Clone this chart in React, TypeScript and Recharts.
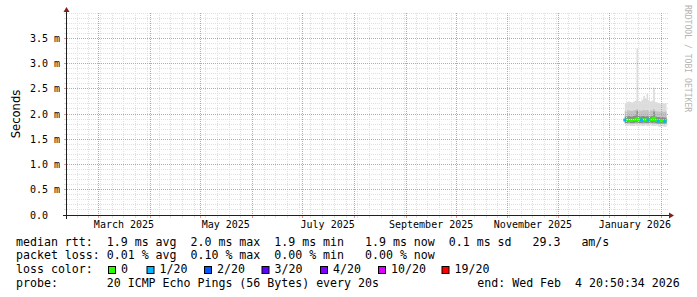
/**
 * SmokePing style latency chart (last 360 days)
 */

import React from 'react';
import { ComposedChart, Area, Line, Scatter, XAxis, YAxis, ReferenceLine } from 'recharts';

const W = 697;
const H = 297;
const DAY = 86400000;

// graph window: 360 days ending at the probe end time
const END = Date.UTC(2026, 1, 4, 20, 50, 34);
const START = END - 360 * DAY;

// samples (ms)
const DAYS = [
  '2026-01-10', '2026-01-11', '2026-01-12', '2026-01-13', '2026-01-14', '2026-01-15',
  '2026-01-16', '2026-01-17', '2026-01-18', '2026-01-19', '2026-01-20', '2026-01-21',
  '2026-01-22', '2026-01-23', '2026-01-24', '2026-01-25', '2026-01-26', '2026-01-27',
  '2026-01-28', '2026-01-29', '2026-01-30', '2026-01-31', '2026-02-01', '2026-02-02',
  '2026-02-03', '2026-02-04',
];
const MEDIAN = [1.88, 1.88, 1.88, 1.87, 1.88, 1.88, 1.89, 1.91, 1.88, 1.87, 1.88, 1.89, 1.88, 1.87, 1.88, 1.88, 1.89, 1.92, 1.88, 1.87, 1.86, 1.87, 1.86, 1.86, 1.86, 1.86];
const OUTER_HI = [2.22, 2.24, 2.25, 2.24, 2.23, 2.25, 2.26, 3.30, 2.26, 2.25, 2.28, 2.36, 2.30, 2.40, 2.27, 2.25, 2.26, 2.52, 2.24, 2.23, 2.22, 2.21, 2.22, 2.21, 2.22, 2.20];
const OUTER_LO = [1.76, 1.76, 1.77, 1.76, 1.76, 1.76, 1.77, 1.76, 1.76, 1.77, 1.76, 1.76, 1.77, 1.76, 1.76, 1.77, 1.76, 1.76, 1.76, 1.77, 1.75, 1.75, 1.76, 1.75, 1.75, 1.75];
const MID_HI = [2.06, 2.07, 2.07, 2.06, 2.06, 2.07, 2.08, 2.10, 2.07, 2.06, 2.07, 2.08, 2.07, 2.08, 2.06, 2.07, 2.07, 2.10, 2.06, 2.05, 2.05, 2.04, 2.05, 2.04, 2.05, 2.04];
const MID_LO = [1.80, 1.80, 1.81, 1.80, 1.80, 1.80, 1.81, 1.80, 1.80, 1.81, 1.80, 1.80, 1.81, 1.80, 1.80, 1.81, 1.80, 1.80, 1.80, 1.80, 1.79, 1.79, 1.80, 1.79, 1.79, 1.79];
const INNER_HI = [1.95, 1.95, 1.96, 1.95, 1.95, 1.96, 1.97, 2.06, 1.96, 1.95, 1.96, 1.96, 1.95, 1.96, 1.95, 1.95, 1.96, 2.05, 1.95, 1.94, 1.94, 1.93, 1.94, 1.93, 1.93, 1.93];
const INNER_LO = [1.82, 1.82, 1.83, 1.82, 1.82, 1.82, 1.83, 1.83, 1.82, 1.82, 1.82, 1.83, 1.82, 1.82, 1.82, 1.83, 1.82, 1.83, 1.82, 1.81, 1.81, 1.81, 1.81, 1.81, 1.81, 1.81];
// lost pings out of 20
const LOSS = [1, 0, 0, 0, 0, 0, 0, 0, 0, 0, 1, 0, 0, 0, 1, 0, 0, 0, 0, 0, 1, 0, 0, 0, 1, 0];

// axis
const Y_TICKS = [0, 0.5, 1, 1.5, 2, 2.5, 3, 3.5];
const X_LABEL_DATES = ['2025-03-16', '2025-05-16', '2025-07-16', '2025-09-16', '2025-11-16', '2026-01-16'];
const X_LABELS = ['March 2025', 'May 2025', 'July 2025', 'September 2025', 'November 2025', 'January 2026'];
const MONTH_STARTS = [
  '2025-03-01', '2025-04-01', '2025-05-01', '2025-06-01', '2025-07-01', '2025-08-01',
  '2025-09-01', '2025-10-01', '2025-11-01', '2025-12-01', '2026-01-01', '2026-02-01',
];

// legend
const LOSS_LABELS = ['0', '1/20', '2/20', '3/20', '4/20', '10/20', '19/20'];
const LOSS_COLORS = ['#26ff00', '#00b8ff', '#0059ff', '#5e00ff', '#7e00ff', '#dd00ff', '#ff0000'];
const BOX_X = [108, 146.5, 204, 261.5, 320, 378, 441.5];
const LINE_RTT = 'median rtt:  1.9 ms avg  2.0 ms max  1.9 ms min   1.9 ms now  0.1 ms sd   29.3   am/s';
const LINE_LOSS = 'packet loss: 0.01 % avg  0.10 % max  0.00 % min   0.00 % now';
const LINE_PROBE = 'probe:       20 ICMP Echo Pings (56 Bytes) every 20s';
const LINE_END = 'end: Wed Feb  4 20:50:34 2026';

const toT = (d: string) => Date.parse(d + 'T00:00:00Z');
const pre = (s: string) => s.replace(/ /g, '\u00a0');

const rows = DAYS.map((d, i) => ({
  t: toT(d),
  outer: [OUTER_LO[i], OUTER_HI[i]],
  mid: [MID_LO[i], MID_HI[i]],
  inner: [INNER_LO[i], INNER_HI[i]],
  median: MEDIAN[i],
  loss: LOSS[i],
}));
const lossRows = rows.filter(r => r.loss > 0);

// grid positions
const minorY: number[] = [];
for (let k = 1; k <= 40; k++) if (k % 5 !== 0 || k === 40) minorY.push(k / 10);
const majorY = [0.5, 1, 1.5, 2, 2.5, 3, 3.5];
const weeks: number[] = [];
for (let t = toT('2025-02-16'); t < END; t += 7 * DAY) weeks.push(t);
const months = MONTH_STARTS.map(toT);
const labelTicks = X_LABEL_DATES.map(toT);

const PLOT = { left: 67, top: 13, right: 668, bottom: 215 };
const MONO = '"DejaVu Sans Mono", monospace';
const MINOR = '#e0e0e0';
const MAJOR = '#e69494';
const ARROW = '#801f1f';
const AXIS = '#1f1f1f';

const snap = (v: number) => Math.floor(v + 0.001) + 0.5;

// dotted grid line snapped to the pixel grid, with a small tick outside the axis
const GridLine = (p: any) => {
  const color = p.stroke;
  if (Math.abs(p.y1 - p.y2) < 0.01) {
    const y = snap(p.y1);
    const xa = Math.min(p.x1, p.x2);
    const xb = Math.max(p.x1, p.x2);
    return (
      <g>
        <line x1={xa} x2={xb} y1={y} y2={y} stroke={color} strokeDasharray="1 1" fill="none" />
        <line x1={xa - 3} x2={xa} y1={y} y2={y} stroke={color} fill="none" />
      </g>
    );
  }
  const x = snap(p.x1);
  const ya = Math.min(p.y1, p.y2);
  const yb = Math.max(p.y1, p.y2);
  return (
    <g>
      <line x1={x} x2={x} y1={ya} y2={yb} stroke={color} strokeDasharray="1 1" fill="none" />
      <line x1={x} x2={x} y1={yb} y2={yb + 3} stroke={color} fill="none" />
    </g>
  );
};

const YTick = (props: any) => {
  const { x, y, payload } = props;
  const v = payload.value as number;
  const label = v === 0 ? '0.0' : `${v.toFixed(1)} m`;
  return (
    <text x={x - 30} y={y} dy="0.36em" textAnchor="start" fontFamily={MONO} fontSize={10} fill="#000">
      {pre(label)}
    </text>
  );
};

const LossDot = (props: any) => {
  const { cx, cy } = props;
  if (cx == null || cy == null) return <g />;
  return <rect x={cx - 1.5} y={cy - 1.5} width={3} height={3} fill={LOSS_COLORS[1]} />;
};

export default function App() {
  return (
    <div style={{ position: 'absolute', left: 0, top: 0, width: W, height: H, background: '#fff' }}>
      <ComposedChart
        width={W}
        height={H}
        data={rows}
        margin={{ top: PLOT.top, right: W - PLOT.right, bottom: H - PLOT.bottom - 20, left: 0 }}
      >
        <XAxis
          dataKey="t"
          type="number"
          domain={[START, END]}
          allowDataOverflow
          ticks={labelTicks}
          interval={0}
          height={20}
          tickSize={0}
          tickMargin={6}
          axisLine={false}
          tickLine={false}
          tickFormatter={(v: number) => X_LABELS[labelTicks.indexOf(v)] ?? ''}
          tick={{ fontFamily: MONO, fontSize: 10, fill: '#000' }}
        />
        <YAxis
          type="number"
          domain={[0, 4]}
          allowDataOverflow
          ticks={Y_TICKS}
          interval={0}
          width={67}
          tickSize={0}
          tickMargin={7}
          axisLine={false}
          tickLine={false}
          tick={<YTick />}
        />

        <Area type="stepAfter" dataKey="outer" stroke="none" fill="#dcdcdc" fillOpacity={1} isAnimationActive={false} />
        <Area type="stepAfter" dataKey="mid" stroke="none" fill="#c2c2c2" fillOpacity={1} isAnimationActive={false} />
        <Area type="stepAfter" dataKey="inner" stroke="none" fill="#8c8c8c" fillOpacity={1} isAnimationActive={false} />
        <Line type="stepAfter" dataKey="median" stroke={LOSS_COLORS[0]} strokeWidth={2.5} dot={false} isAnimationActive={false} />
        <Scatter data={lossRows} dataKey="median" shape={<LossDot />} isAnimationActive={false} />

        {minorY.map(v => (
          <ReferenceLine key={`my${v}`} y={v} ifOverflow="visible" stroke={MINOR} shape={GridLine} />
        ))}
        {weeks.map(t => (
          <ReferenceLine key={`wx${t}`} x={t} ifOverflow="visible" stroke={MINOR} shape={GridLine} />
        ))}
        {majorY.map(v => (
          <ReferenceLine key={`My${v}`} y={v} ifOverflow="visible" stroke={MAJOR} shape={GridLine} />
        ))}
        {months.map(t => (
          <ReferenceLine key={`Mx${t}`} x={t} ifOverflow="visible" stroke={MAJOR} shape={GridLine} />
        ))}
      </ComposedChart>

      <svg
        width={W}
        height={H}
        style={{ position: 'absolute', left: 0, top: 0, pointerEvents: 'none' }}
      >
        {/* axes with arrows */}
        <line x1={PLOT.left - 4} y1={PLOT.bottom + 0.5} x2={PLOT.right + 1} y2={PLOT.bottom + 0.5} stroke={AXIS} shapeRendering="crispEdges" />
        <line x1={PLOT.left - 0.5} y1={PLOT.bottom + 4} x2={PLOT.left - 0.5} y2={PLOT.top - 3} stroke={AXIS} shapeRendering="crispEdges" />
        <polygon points={`${PLOT.right + 1},${PLOT.bottom - 2.5} ${PLOT.right + 6},${PLOT.bottom + 0.5} ${PLOT.right + 1},${PLOT.bottom + 3.5}`} fill={ARROW} />
        <polygon points={`${PLOT.left - 3.5},${PLOT.top - 1} ${PLOT.left - 0.5},${PLOT.top - 6} ${PLOT.left + 2.5},${PLOT.top - 1}`} fill={ARROW} />

        {/* unit label */}
        <text
          transform="translate(19.5,114) rotate(-90)"
          textAnchor="middle"
          fontFamily='"DejaVu Sans", sans-serif'
          fontSize={11.6}
          fill="#000"
        >
          Seconds
        </text>

        {/* watermark */}
        <text
          transform="translate(685,5) rotate(90)"
          fontFamily={MONO}
          fontSize={8.1}
          fill="#b4b4b4"
        >
          RRDTOOL / TOBI OETIKER
        </text>

        {/* legend */}
        <g fontFamily={MONO} fontSize={11.6} fill="#000">
          <text x={16} y={245.5}>{pre(LINE_RTT)}</text>
          <text x={16} y={259.4}>{pre(LINE_LOSS)}</text>
          <text x={16} y={273.3}>{pre('loss color:')}</text>
          {LOSS_LABELS.map((lab, i) => (
            <g key={lab}>
              <rect x={BOX_X[i] + 0.5} y={266.5} width={7} height={7} fill={LOSS_COLORS[i]} stroke="#000" />
              <text x={BOX_X[i] + 13} y={273.3}>{lab}</text>
            </g>
          ))}
          <text x={16} y={287.2}>{pre(LINE_PROBE)}</text>
          <text x={477.3} y={287.2}>{pre(LINE_END)}</text>
        </g>
      </svg>
    </div>
  );
}
